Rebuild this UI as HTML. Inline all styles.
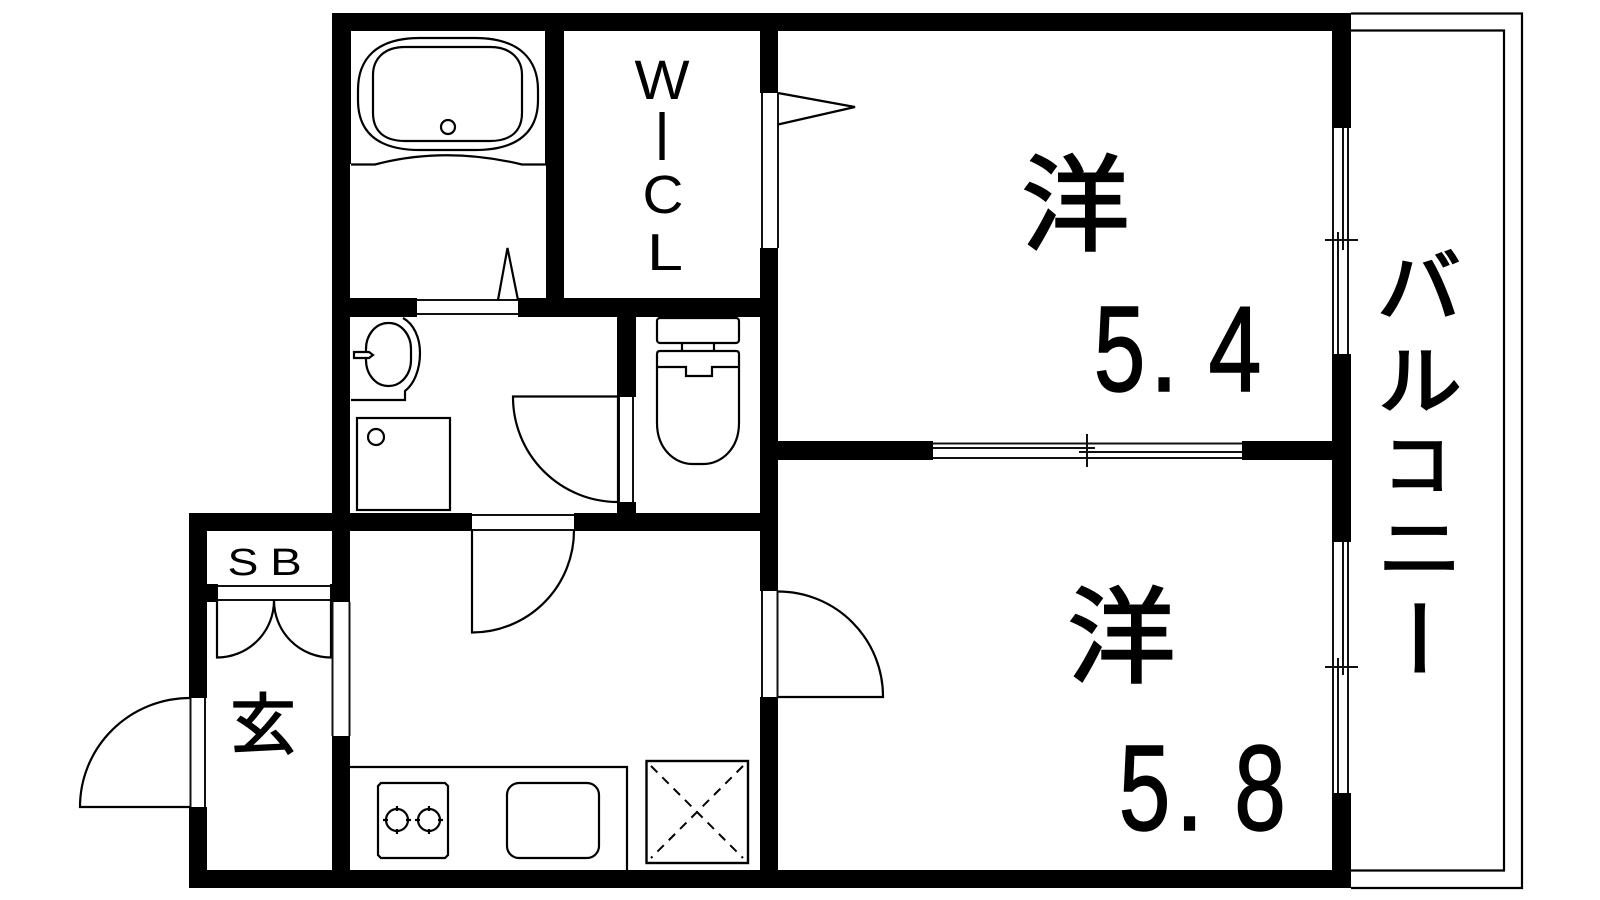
<!DOCTYPE html>
<html lang="ja">
<head>
<meta charset="utf-8">
<title>間取り図</title>
<style>
html,body{margin:0;padding:0;background:#fff;width:1600px;height:900px;overflow:hidden}
svg{display:block}
.l{fill:none;stroke:#000;stroke-width:2.2}
.t{stroke:#111;stroke-width:2;fill:none}
.lat{font-family:"Liberation Sans",sans-serif;fill:#000;text-anchor:middle}
.cjk{font-family:"Liberation Sans","Noto Sans CJK JP",sans-serif;fill:#000;stroke:#000;text-anchor:middle}
.dig{stroke:#000;stroke-width:1.5}
</style>
</head>
<body>
<svg width="1600" height="900" viewBox="0 0 1600 900" xmlns="http://www.w3.org/2000/svg">
<rect width="1600" height="900" fill="#fff"/>

<!-- walls -->
<g fill="#000">
<rect x="332" y="13" width="1019" height="18"/>
<rect x="332" y="13" width="19" height="151"/>
<rect x="332" y="164" width="18" height="367"/>
<rect x="545" y="13" width="19" height="151"/>
<rect x="546" y="164" width="18" height="150"/>
<rect x="760" y="13" width="18" height="80"/>
<rect x="760" y="248" width="18" height="343"/>
<rect x="760" y="697" width="18" height="191"/>
<rect x="332" y="298" width="85" height="19"/>
<rect x="518" y="298" width="260" height="19"/>
<rect x="617" y="317" width="19" height="80"/>
<rect x="617" y="502" width="19" height="12"/>
<rect x="189" y="513" width="283" height="18"/>
<rect x="574" y="513" width="204" height="18"/>
<rect x="189" y="513" width="18" height="185"/>
<rect x="189" y="807" width="18" height="81"/>
<rect x="189" y="870" width="1162" height="18"/>
<rect x="332" y="531" width="18" height="71"/>
<rect x="332" y="736" width="18" height="152"/>
<rect x="207" y="584" width="11" height="18"/>
<rect x="330" y="584" width="20" height="18"/>
<rect x="778" y="441" width="155" height="19"/>
<rect x="1242" y="441" width="90" height="19"/>
<rect x="1332" y="13" width="19" height="115"/>
<rect x="1332" y="354" width="19" height="188"/>
<rect x="1332" y="793" width="19" height="95"/>
</g>

<!-- balcony -->
<path class="l" d="M1351 13.5H1522V888H1351"/>
<path class="l" d="M1351 30.5H1504V870.5H1351"/>

<!-- bath -->
<path class="l" d="M420 38H475C520 38 538 60 538 90V100C538 130 520 150 475 150H420C375 150 358 130 358 100V90C358 60 375 38 420 38Z"/>
<path class="l" d="M405 47H490C512 47 522 60 522 75V113C522 130 512 141 490 141H405C383 141 373 130 373 113V75C373 60 383 47 405 47Z"/>
<circle class="l" cx="448" cy="127" r="7"/>
<path class="l" d="M351 164.500H375Q445 146 522 164.500H546"/>
<!-- bath door -->
<path class="t" d="M417 300H518M417 314H518"/>
<path class="l" d="M498 300L507.500 248L518 300"/>

<!-- WIC door -->
<path class="t" d="M762 93V248M778 93V248"/>
<path class="l" d="M778 93L855 107L778 124.500"/>

<!-- sink -->
<path class="l" d="M403 318C414 324 420 338 420 353C420 370 414 384 405 391V400H351"/>
<rect class="l" x="366" y="323" width="45" height="63" rx="22" ry="26"/>
<path class="l" d="M354 352H369L373 355L369 358H354Z" style="fill:#fff"/>
<!-- washer pan -->
<rect class="l" x="357" y="418" width="93" height="92"/>
<circle class="l" cx="376" cy="437" r="8"/>

<!-- wash door -->
<path class="t" d="M619 397V502M633 397V502"/>
<path class="l" d="M618 396.500H513A105 105 0 0 0 618 502V396"/>

<!-- toilet -->
<rect class="l" x="657" y="318" width="82" height="25" rx="3"/>
<path class="l" d="M682 343V351M714 343V351"/>
<path class="l" d="M660 351H736Q739 351 739 354V423C739 450 720 464 704 464H692C676 464 657 450 657 423V354Q657 351 660 351Z"/>
<path class="l" d="M656 367H686V376H712V367H740"/>

<!-- LDK door top -->
<path class="t" d="M472 515H574M472 530H574"/>
<path class="l" d="M472 530V632.500A102 102 0 0 0 574 530"/>

<!-- room door -->
<path class="t" d="M762 591V697M777.500 591V697"/>
<path class="l" d="M778 591.500A105 105 0 0 1 883 697H778"/>

<!-- closet -->
<path class="t" d="M218 586H330M218 600H330"/>
<path class="l" d="M217 600V657.500A57 57 0 0 0 274 600A57 57 0 0 0 331 657.500V600"/>
<!-- side door strip -->
<path class="t" d="M332.500 602V736M349.500 602V736"/>

<!-- entrance -->
<path class="t" d="M190.500 698V807M205 698V807"/>
<path class="l" d="M190 698A110 109 0 0 0 80 807H190"/>

<!-- kitchen -->
<path class="l" d="M350 767H627V870"/>
<path class="l" d="M381 783H445L448 786V855L445 858H381L378 855V786Z"/>
<circle class="l" cx="397" cy="820" r="11"/>
<circle class="l" cx="429" cy="820" r="11"/>
<path class="l" d="M383 820H388M406 820H411M397 806V811M397 829V834M415 820H420M438 820H443M429 806V811M429 829V834"/>
<rect class="l" x="507" y="783" width="92" height="75" rx="12"/>
<rect x="646.500" y="761" width="101.500" height="102" fill="none" stroke="#000" stroke-width="2.400"/>
<path d="M651 766L743 858M743 766L651 858" stroke="#000" stroke-width="2" stroke-dasharray="9 7" fill="none"/>

<!-- mid sliding window -->
<path class="t" d="M933 443.500H1242M933 458H1242M933 448H1095M1079 452H1242"/>
<path class="t" d="M1087 434V467"/>

<!-- right windows -->
<path class="t" d="M1333 128V354M1348 128V354M1343 128V250M1338 232V354M1325 240H1358"/>
<path class="t" d="M1333 542V793M1348 542V793M1343 542V675M1338 658V793M1325 667H1358"/>

<!-- labels -->
<text class="lat" transform="translate(662 99) scale(1.08 1.03)" font-size="54">W</text>
<text class="lat" transform="translate(662 160) scale(.8 1)" font-size="70">I</text>
<text class="lat" transform="translate(663 213) scale(1.05 1)" font-size="54">C</text>
<text class="lat" transform="translate(665 270) scale(1.25 1)" font-size="52">L</text>
<text class="lat" transform="translate(243 575) scale(1.22 1)" font-size="38">S</text>
<text class="lat" transform="translate(286 575) scale(1.25 1)" font-size="38">B</text>

<text class="cjk" x="263" y="748" font-size="66" stroke-width="1.500">玄</text>
<text class="cjk" transform="translate(1075.500 242) scale(1 .97)" font-size="108" stroke-width="2.400">洋</text>
<text class="cjk" transform="translate(1121.500 674) scale(1 .97)" font-size="108" stroke-width="2.400">洋</text>

<text class="lat dig" transform="translate(1119.500 391) scale(.76 1)" font-size="122">5</text>
<text class="lat dig" transform="translate(1164 391) scale(.85 1)" font-size="122">.</text>
<text class="lat dig" transform="translate(1235 391) scale(.78 1)" font-size="122">4</text>
<text class="lat dig" transform="translate(1144.500 830) scale(.76 1)" font-size="122">5</text>
<text class="lat dig" transform="translate(1189.500 830) scale(.85 1)" font-size="122">.</text>
<text class="lat dig" transform="translate(1260 830) scale(.76 1)" font-size="122">8</text>

<text class="cjk" transform="translate(1419 315) scale(1 .94)" font-size="84" stroke-width="2.400">バ</text>
<text class="cjk" transform="translate(1420 407.400) scale(1 .89)" font-size="84" stroke-width="2.400">ル</text>
<text class="cjk" x="1417" y="489" font-size="68" stroke-width="2.500">コ</text>
<text class="cjk" transform="translate(1420 572.600) scale(1 .82)" font-size="84" stroke-width="2.800">ニ</text>
<text class="cjk" transform="translate(1419.500 638) rotate(90) translate(0 32)" font-size="84" stroke-width="2.400">ー</text>
</svg>
</body>
</html>
